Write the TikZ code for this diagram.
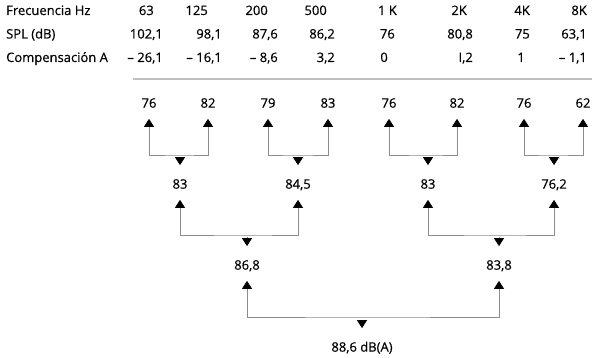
\documentclass[tikz,border=0pt]{standalone}
\usepackage{fontspec}
\setmainfont{Open Sans}[FakeBold=0.5]
\usetikzlibrary{arrows.meta}

\begin{document}
\begin{tikzpicture}[x=1pt, y=-1pt,
    hdr/.style={font=\fontsize{13}{15}\selectfont, inner sep=0pt},
    val/.style={font=\fontsize{13}{15}\selectfont, inner sep=0pt, text height=9.3pt, text depth=0pt},
    link/.style={draw=black!45, line width=0.8pt},
    wedge/.tip={Triangle[length=8pt, width=10pt, color=black, fill=black]}]
  \useasboundingbox (0,0) rectangle (600,358);

  % Table header
  \node[hdr, anchor=base west] (hfreq) at (6,15) {Frecuencia Hz};
  \node[hdr, anchor=base west] (hspl) at (6,38.5) {SPL (dB)};
  \node[hdr, anchor=base west] (hcomp) at (6,62) {Compensación A};
  \foreach \x/\v [count=\i] in {154/63, 208/125, 268/200, 327/500, 397/1 K, 467/2K, 530/4K, 587/8K} {
    \node[hdr, anchor=base east] (f\i) at (\x,15) {\v};
  }
  \foreach \x/\v [count=\i] in {163/{102,1}, 222/{98,1}, 278/{87,6}, 335/{86,2}, 395/76, 473/{80,8}, 530/75, 587/{63,1}} {
    \node[hdr, anchor=base east] (s\i) at (\x,38.5) {\v};
  }
  \foreach \x/\v [count=\i] in {163/{– 26,1}, 222/{– 16,1}, 278/{– 8,6}, 335/{3,2}, 388/0, 473/{I,2}, 525/1, 587/{– 1,1}} {
    \node[hdr, anchor=base east] (c\i) at (\x,62) {\v};
  }
  \draw[black!25, line width=1.6pt] (133,79) -- (592,79);

  % Values of the sum tree
  \foreach \n/\x/\v in {l1/149/76, l2/208/82, l3/268/79, l4/328/83, l5/389/76, l6/457/82, l7/524/76, l8/583/62} {
    \node[val] (\n) at (\x,103) {\v};
  }
  \foreach \n/\x/\v in {m1/180/83, m2/298/{84,5}, m3/428/83, m4/554/{76,2}} {
    \node[val] (\n) at (\x,184) {\v};
  }
  \node[val] (n1) at (247,265) {86,8};
  \node[val] (n2) at (499,265) {83,8};
  \node[val] (total) at (362,347) {88,6 dB(A)};

  % Brackets
  \foreach \a/\b/\p/\h in {l1/l2/m1/155, l3/l4/m2/155, l5/l6/m3/155, l7/l8/m4/155, m1/m2/n1/235, m3/m4/n2/235, n1/n2/total/317} {
    \coordinate (\p-h) at (\p |- 0,\h);
    \draw[link, wedge-wedge, shorten <=11pt, shorten >=11pt] (\a.south) |- (\p-h) -| (\b.south);
    \draw[link, -wedge, shorten >=14pt] ([yshift=-2.5pt]\p-h) -- (\p.north);
  }
\end{tikzpicture}
\end{document}
